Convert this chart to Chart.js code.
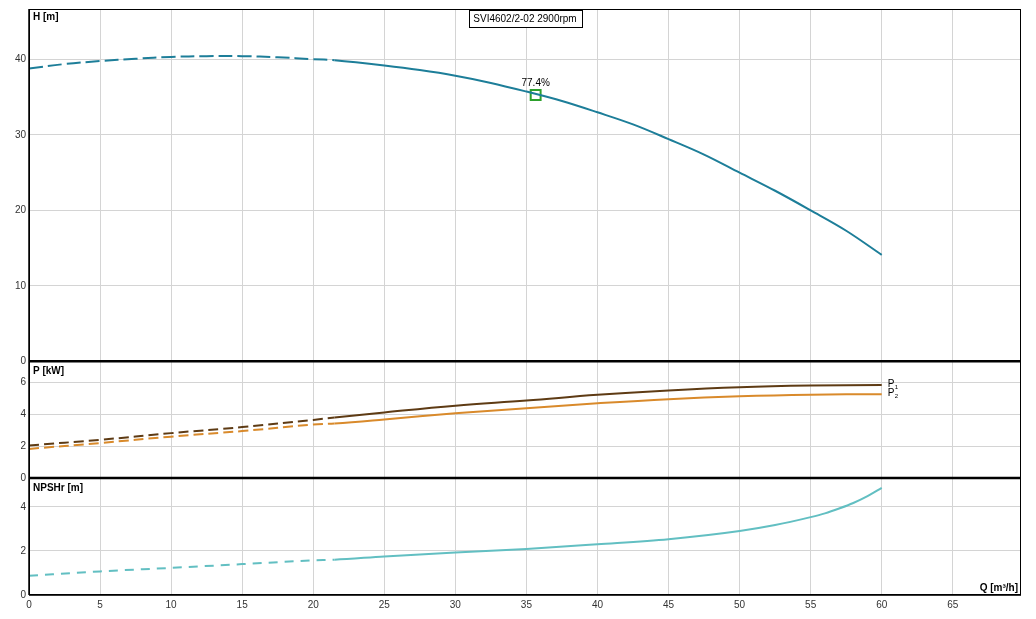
<!DOCTYPE html>
<html>
<head>
<meta charset="utf-8">
<script src="https://cdn.jsdelivr.net/npm/chart.js@4.4.0/dist/chart.umd.min.js"></script>
<style>
  html, body { margin: 0; padding: 0; background: #fff; }
  #wrap { width: 1036px; height: 619px; }
</style>
</head>
<body>
<div id="wrap"><canvas id="pump" width="1036" height="619"></canvas></div>
<script>
// curve data
const title = 'SVI4602/2-02 2900rpm';
const dashEnd = 21.5;

const qHead = [0, 2.5, 5, 7.5, 10, 12.5, 15, 17.5, 20, 21.5, 25, 27.5, 30, 32.5, 35, 37.5, 40, 42.5, 45, 47.5, 50, 52.5, 55, 57.5, 60];
const head  = [38.8, 39.4, 39.8, 40.1, 40.35, 40.45, 40.45, 40.3, 40.05, 39.9, 39.2, 38.6, 37.85, 36.9, 35.75, 34.5, 33.0, 31.4, 29.45, 27.4, 25.0, 22.6, 20.0, 17.3, 14.1];

const qPower = [0, 5, 10, 15, 20, 21.5, 25, 30, 35, 40, 45, 50, 55, 60];
const p1 = [2.05, 2.4, 2.82, 3.2, 3.65, 3.8, 4.12, 4.54, 4.86, 5.22, 5.5, 5.7, 5.8, 5.83];
const p2 = [1.83, 2.2, 2.6, 2.95, 3.36, 3.43, 3.68, 4.06, 4.38, 4.69, 4.95, 5.13, 5.23, 5.26];

const qNpsh = [0, 5, 10, 15, 20, 21.5, 25, 30, 35, 40, 45, 50, 52.5, 55, 56, 57, 58, 59, 60];
const npsh  = [0.87, 1.07, 1.23, 1.4, 1.57, 1.6, 1.75, 1.93, 2.09, 2.3, 2.53, 2.9, 3.17, 3.53, 3.7, 3.92, 4.17, 4.48, 4.86];

const bestQ = [35.65];
const bestH = [35.3];
const bestEff = ['77.4%'];

const xTicks = [0, 5, 10, 15, 20, 25, 30, 35, 40, 45, 50, 55, 60, 65];

function pts(xs, ys) {
    return xs.map((x, i) => ({x: x, y: ys[i]}));
}
function dash(pattern) {
    return ctx => ctx.p1.parsed.x <= dashEnd ? pattern : undefined;
}

const FONT = 'Arial, "Liberation Sans", sans-serif';

// titles, labels, frame and the panel separators
const decorations = {
    id: 'decorations',
    afterDraw(chart) {
        const c = chart.ctx;
        const a = chart.chartArea;
        const s = chart.scales;
        c.save();

        // frame + thick separators
        c.strokeStyle = '#000';
        c.lineWidth = 1;
        c.strokeRect(a.left + 0.5, a.top + 0.5, a.right - a.left - 1, a.bottom - a.top - 1);
        c.lineWidth = 2.5;
        [s.yP.top, s.yN.top].forEach(y => {
            c.beginPath();
            c.moveTo(a.left, y);
            c.lineTo(a.right, y);
            c.stroke();
        });
        c.lineWidth = 1.5;
        c.beginPath();
        c.moveTo(a.left, a.top); c.lineTo(a.left, a.bottom);
        c.moveTo(a.left, a.bottom); c.lineTo(a.right, a.bottom);
        c.stroke();

        // panel titles
        c.fillStyle = '#000';
        c.font = 'bold 10px ' + FONT;
        c.textBaseline = 'middle';
        c.textAlign = 'left';
        c.fillText('H [m]', a.left + 4, s.yH.top + 8);
        c.fillText('P [kW]', a.left + 4, s.yP.top + 10);
        c.fillText('NPSHr [m]', a.left + 4, s.yN.top + 10);
        c.textAlign = 'right';
        c.fillText('Q [m³/h]', a.right - 3, a.bottom - 7);

        // model box
        c.font = '10px ' + FONT;
        const tw = c.measureText(title).width;
        const cx = (a.left + a.right) / 2;
        const bw = Math.round(tw + 10);
        const bx = Math.round(cx - bw / 2);
        c.fillStyle = '#fff';
        c.fillRect(bx, a.top + 1, bw, 17);
        c.lineWidth = 1;
        c.strokeRect(bx + 0.5, a.top + 1.5, bw, 17);
        c.fillStyle = '#000';
        c.textAlign = 'center';
        c.fillText(title, cx, a.top + 10);

        // efficiency label
        const bp = chart.getDatasetMeta(4).data[0];
        c.font = '10px ' + FONT;
        c.fillText(bestEff[0], bp.x, bp.y - 12);

        // P1 / P2 tags at the end of the power curves
        [[1, '1'], [2, '2']].forEach(([di, sub]) => {
            const m = chart.getDatasetMeta(di).data;
            const last = m[m.length - 1];
            c.textAlign = 'left';
            c.font = '10px ' + FONT;
            c.fillText('P', last.x + 6, last.y - 1);
            c.font = '6px ' + FONT;
            c.fillText(sub, last.x + 13, last.y + 2);
        });

        c.restore();
    }
};

const gridColor = '#d4d4d4';
const tickFont = {family: FONT, size: 10};

new Chart(document.getElementById('pump'), {
    type: 'line',
    data: {
        datasets: [
            {
                label: 'H',
                data: pts(qHead, head),
                yAxisID: 'yH',
                borderColor: '#1d7e99',
                borderWidth: 2,
                pointRadius: 0,
                tension: 0.35,
                segment: {borderDash: dash([14, 5])}
            },
            {
                label: 'P1',
                data: pts(qPower, p1),
                yAxisID: 'yP',
                borderColor: '#5e3b14',
                borderWidth: 2,
                pointRadius: 0,
                tension: 0.4,
                segment: {borderDash: dash([10, 5])}
            },
            {
                label: 'P2',
                data: pts(qPower, p2),
                yAxisID: 'yP',
                borderColor: '#d98a2b',
                borderWidth: 2,
                pointRadius: 0,
                tension: 0.4,
                segment: {borderDash: dash([10, 5])}
            },
            {
                label: 'NPSHr',
                data: pts(qNpsh, npsh),
                yAxisID: 'yN',
                borderColor: '#62bfc2',
                borderWidth: 2,
                pointRadius: 0,
                cubicInterpolationMode: 'monotone',
                segment: {borderDash: dash([9, 7])}
            },
            {
                label: 'eta',
                data: pts(bestQ, bestH),
                yAxisID: 'yH',
                showLine: false,
                pointStyle: 'rect',
                pointRadius: 7,
                pointBorderWidth: 2,
                pointBorderColor: '#2ca02c',
                pointBackgroundColor: 'rgba(0,0,0,0)'
            }
        ]
    },
    options: {
        responsive: false,
        animation: false,
        events: [],
        layout: {padding: {top: 6, right: 15, left: 0, bottom: 0}},
        plugins: {legend: {display: false}, tooltip: {enabled: false}},
        scales: {
            x: {
                type: 'linear',
                min: 0,
                max: 69.8,
                afterBuildTicks: sc => { sc.ticks = xTicks.map(v => ({value: v})); },
                afterFit: sc => { sc.height = 24; },
                grid: {color: gridColor, drawTicks: false},
                border: {display: false},
                ticks: {color: '#333', font: tickFont, padding: 4, maxRotation: 0}
            },
            // stacked panels are laid out bottom-up
            yN: {
                type: 'linear',
                position: 'left',
                stack: 'pump',
                stackWeight: 117.5,
                min: 0,
                max: 5.3,
                afterFit: sc => { sc.width = 29; },
                grid: {color: gridColor, drawTicks: false},
                border: {display: false},
                ticks: {stepSize: 2, includeBounds: false, color: '#333', font: tickFont, padding: 3}
            },
            yP: {
                type: 'linear',
                position: 'left',
                stack: 'pump',
                stackWeight: 117.5,
                min: 0,
                max: 7.33,
                afterFit: sc => { sc.width = 29; },
                grid: {color: gridColor, drawTicks: false},
                border: {display: false},
                ticks: {stepSize: 2, includeBounds: false, color: '#333', font: tickFont, padding: 3}
            },
            yH: {
                type: 'linear',
                position: 'left',
                stack: 'pump',
                stackWeight: 354,
                min: 0,
                max: 46.7,
                afterFit: sc => { sc.width = 29; },
                grid: {color: gridColor, drawTicks: false},
                border: {display: false},
                ticks: {stepSize: 10, includeBounds: false, color: '#333', font: tickFont, padding: 3}
            }
        }
    },
    plugins: [decorations]
});
</script>
</body>
</html>
